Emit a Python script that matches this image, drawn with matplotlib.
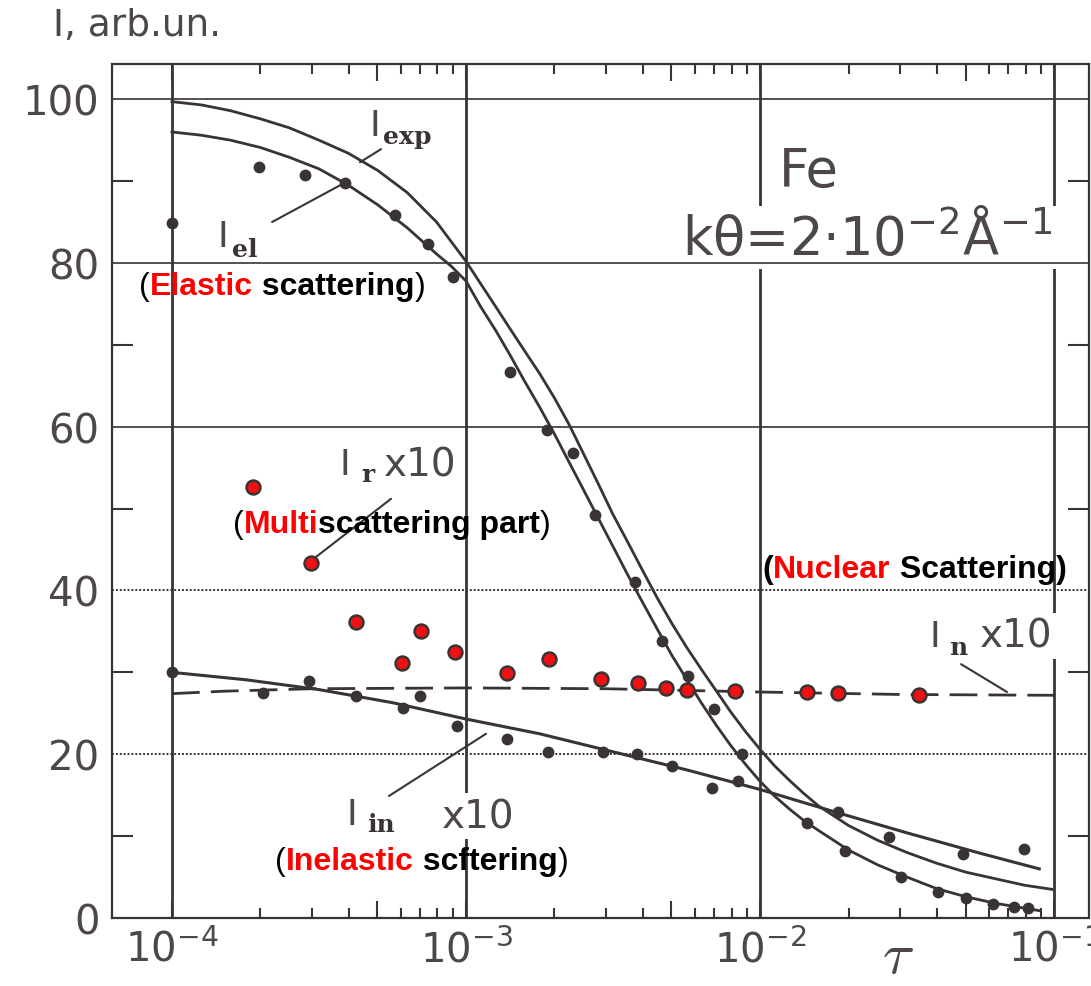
import matplotlib.pyplot as plt
from matplotlib.ticker import FixedLocator, FuncFormatter, NullFormatter
import numpy as np

# colours of the scanned figure
ink = '#3a3333'
grey = '#4d4747'
red = '#ff0000'

# curves (tau, intensity)
tau_curve = [1.0e-4, 1.26e-4, 1.58e-4, 2.0e-4, 2.51e-4, 3.16e-4, 3.98e-4, 5.01e-4, 6.31e-4,
             7.94e-4, 8.91e-4, 1.0e-3, 1.12e-3, 1.26e-3, 1.41e-3, 1.58e-3, 1.78e-3, 2.0e-3,
             2.24e-3, 2.51e-3, 2.82e-3, 3.16e-3, 3.55e-3, 3.98e-3, 4.47e-3, 5.01e-3, 5.62e-3,
             6.31e-3, 7.08e-3, 7.94e-3, 8.91e-3, 1.0e-2, 1.12e-2, 1.26e-2, 1.41e-2, 1.58e-2,
             2.0e-2, 2.51e-2, 3.16e-2, 3.98e-2, 5.01e-2, 6.31e-2, 7.94e-2]
I_exp = [99.7, 99.3, 98.6, 97.6, 96.5, 95.0, 93.4, 91.3, 88.6,
         85.0, 82.6, 80.2, 77.5, 74.7, 72.0, 69.3, 66.5, 63.5,
         60.3, 56.7, 53.0, 49.3, 45.9, 42.5, 39.1, 36.0, 33.1,
         30.4, 27.8, 25.2, 22.8, 20.6, 18.6, 16.8, 15.2, 13.7,
         11.3, 9.5, 8.0, 6.7, 5.6, 4.8, 4.0]
I_el = [96.0, 95.6, 95.0, 94.1, 92.9, 91.5, 89.5, 87.1, 84.3,
        81.1, 79.6, 77.8, 74.7, 71.8, 68.8, 65.6, 62.4, 59.1,
        55.7, 52.3, 48.8, 45.4, 41.9, 38.6, 35.3, 32.1, 29.2,
        26.3, 23.6, 21.1, 18.8, 16.7, 14.9, 13.3, 11.9, 10.7,
        8.3, 6.5, 5.0, 3.6, 2.6, 1.8, 1.2]
tau_exp_end = [9.84e-2]
I_exp_end = [3.5]
tau_el_end = [8.91e-2]
I_el_end = [0.9]

tau_in = [1.0e-4, 1.78e-4, 3.16e-4, 5.62e-4, 1.0e-3, 1.78e-3, 3.16e-3, 5.62e-3,
          1.0e-2, 1.78e-2, 3.16e-2, 5.62e-2, 8.91e-2]
I_in10 = [30.0, 29.1, 27.9, 26.3, 24.3, 22.5, 20.3, 18.1,
          15.7, 13.0, 10.4, 7.9, 6.0]

tau_n = [1.0e-4, 1.5e-4, 3.0e-4, 1.0e-3, 3.0e-3, 1.0e-2, 3.0e-2, 1.0e-1]
I_n10 = [27.4, 27.7, 28.0, 28.1, 28.0, 27.6, 27.3, 27.2]

# measured points
tau_el_pts = [1.0e-4, 1.98e-4, 2.83e-4, 3.87e-4, 5.73e-4, 7.43e-4, 9.03e-4, 1.41e-3,
              1.89e-3, 2.31e-3, 2.75e-3, 3.76e-3, 4.65e-3, 5.69e-3, 6.98e-3, 8.69e-3,
              1.45e-2, 1.95e-2, 3.02e-2, 4.03e-2, 5.01e-2, 6.21e-2, 7.31e-2, 8.17e-2]
I_el_pts = [84.9, 91.7, 90.8, 89.8, 85.8, 82.3, 78.3, 66.7,
            59.6, 56.8, 49.2, 41.0, 33.8, 29.5, 25.5, 20.0,
            11.6, 8.2, 5.0, 3.2, 2.5, 1.7, 1.3, 1.2]

tau_in_pts = [1.0e-4, 2.04e-4, 2.92e-4, 4.23e-4, 6.11e-4, 6.98e-4, 9.31e-4, 1.38e-3,
              1.90e-3, 2.92e-3, 3.82e-3, 5.02e-3, 6.87e-3, 8.41e-3, 1.84e-2, 2.75e-2,
              4.90e-2, 7.91e-2]
I_in_pts = [30.0, 27.5, 28.9, 27.1, 25.6, 27.1, 23.4, 21.9,
            20.3, 20.3, 20.0, 18.6, 15.9, 16.7, 12.9, 9.9,
            7.8, 8.4]

tau_r_pts = [1.88e-4, 2.97e-4, 4.23e-4, 6.05e-4, 7.03e-4, 9.18e-4, 1.38e-3, 1.92e-3,
             2.88e-3, 3.85e-3, 4.79e-3, 5.65e-3, 8.22e-3, 1.45e-2, 1.84e-2, 3.48e-2]
I_r_pts = [52.6, 43.3, 36.1, 31.1, 35.1, 32.5, 29.9, 31.6,
           29.2, 28.7, 28.1, 27.8, 27.7, 27.6, 27.5, 27.2]

decades = [1e-4, 1e-3, 1e-2, 1e-1]
y_major = [0, 20, 40, 60, 80, 100]
y_minor = [10, 30, 50, 70, 90]

fig = plt.figure(figsize=(10.91, 9.87), dpi=100)
ax = fig.add_axes([112 / 1091, 1 - 919 / 987, (1089 - 112) / 1091, (919 - 65) / 987])
ax.set_xscale('log')
ax.set_xlim(10 ** -4.204, 10 ** -0.881)
ax.set_ylim(0, 104.3)

# grid of the original drawing
for v in decades:
    ax.axvline(v, color=ink, lw=2, zorder=1)
for v in [60, 80, 100]:
    ax.axhline(v, color=ink, lw=1.2, zorder=4.5)
for v in [20, 40]:
    ax.axhline(v, color=ink, lw=1.4, ls=(0, (1, 1)), zorder=4.5)

for side in ['left', 'right', 'top', 'bottom']:
    ax.spines[side].set_color(ink)
    ax.spines[side].set_linewidth(1.6)
ax.spines['bottom'].set_linestyle((0, (1, 1)))

# ticks
ax.xaxis.set_major_locator(FixedLocator([1e-4, 5e-4, 1e-3, 5e-3, 1e-2, 5e-2, 1e-1]))
ax.xaxis.set_minor_locator(FixedLocator([m * 10.0 ** e for e in (-4, -3, -2)
                                         for m in (2, 3, 4, 6, 7, 8, 9)]))


def dec_label(v, pos):
    e = np.log10(v)
    if abs(e - round(e)) < 1e-6:
        return r'$\mathregular{10^{%d}}$' % round(e)
    return ''


ax.xaxis.set_major_formatter(FuncFormatter(dec_label))
ax.xaxis.set_minor_formatter(NullFormatter())
ax.tick_params(axis='x', which='major', direction='in', length=12, width=1.5,
               top=True, bottom=True, pad=8, labelsize=29, labelcolor=grey, color=ink)
ax.tick_params(axis='x', which='minor', direction='in', length=7, width=1.5,
               top=True, bottom=True, color=ink)
ax.set_yticks(y_major)
ax.set_yticks(y_minor, minor=True)
ax.tick_params(axis='y', which='major', length=0, pad=9, labelsize=29, labelcolor=grey)
ax.tick_params(axis='y', which='minor', direction='in', length=15, width=1.5,
               left=True, right=True, color=ink)

# curves and points
ax.plot(tau_curve + tau_exp_end, I_exp + I_exp_end, color=ink, lw=2, zorder=2)
ax.plot(tau_curve + tau_el_end, I_el + I_el_end, color=ink, lw=2, zorder=2)
ax.plot(tau_in, I_in10, color=ink, lw=2.2, zorder=2)
ax.plot(tau_n, I_n10, color=ink, lw=2, dashes=(10, 4), zorder=2)
ax.plot(tau_el_pts, I_el_pts, 'o', ms=8.5, color=ink, mew=0, zorder=3)
ax.plot(tau_in_pts, I_in_pts, 'o', ms=8.5, color=ink, mew=0, zorder=3)
ax.plot(tau_r_pts, I_r_pts, 'o', ms=10, mfc='#ee1111', mec=ink, mew=1.8, zorder=3)

# curve labels
lab = dict(fontsize=26, color=grey, va='baseline', zorder=4)
big = dict(fontsize=28, color=grey, va='baseline', zorder=4)
sub = dict(fontsize=18, family='DejaVu Serif', weight='bold', color=ink, va='baseline', zorder=4)
white = dict(facecolor='white', edgecolor='none', pad=3)

ax.text(4.71e-4, 95.6, 'I', **lab)
ax.text(5.22e-4, 94.7, 'exp', **sub)
ax.text(1.43e-4, 82.1, 'I', **lab)
ax.text(1.6e-4, 80.8, 'el', **sub)
ax.text(3.70e-4, 54.2, 'I', **lab)
ax.text(4.40e-4, 53.4, 'r', **sub)
ax.text(5.26e-4, 54.0, 'x10', bbox=white, **big)
ax.text(3.76e-2, 33.2, 'I', **lab)
ax.text(4.40e-2, 32.2, 'n', **sub)
ax.text(5.6e-2, 33.1, 'x10', bbox=white, **big)
ax.text(3.91e-4, 11.5, 'I', **lab)
ax.text(4.6e-4, 10.6, 'in', **sub)
ax.text(8.28e-4, 11.1, 'x10', bbox=white, **big)

# leader lines
leaders = [((5.14e-4, 93.9), (4.36e-4, 92.3)),
           ((2.19e-4, 85.0), (3.78e-4, 89.6)),
           ((5.56e-4, 51.2), (3.09e-4, 44.1)),
           ((4.83e-2, 31.0), (6.92e-2, 27.6)),
           ((5.47e-4, 14.9), (1.17e-3, 22.5))]
for a, b in leaders:
    ax.annotate('', xy=b, xytext=a,
                arrowprops=dict(arrowstyle='-', color=ink, lw=1.5, shrinkA=0, shrinkB=0),
                zorder=3)

ax.text(1.16e-2, 89.4, 'Fe', fontsize=38, color=grey, va='baseline', zorder=4)
ax.text(9.84e-2, 81.1, 'kθ=2·10$^{-2}$Å$^{-1}$', ha='right', va='baseline',
        fontsize=38, color=grey, bbox=white, zorder=4)


def two_tone(x, y, parts):
    # chain text pieces left to right so each can have its own colour
    s, c, w = parts[0]
    t = ax.text(x, y, s, color=c, fontweight=w, fontsize=23, family='Liberation Sans',
                va='baseline', zorder=5)
    for s, c, w in parts[1:]:
        t = ax.annotate(s, xy=(1, 0), xycoords=t, va='bottom', color=c, fontweight=w,
                        fontsize=23, family='Liberation Sans', zorder=5)


two_tone(7.73e-5, 76.2, [('(', 'black', 'normal'), ('Elastic', red, 'bold'),
                         (' scattering', 'black', 'bold'), (')', 'black', 'normal')])
two_tone(1.61e-4, 47.1, [('(', 'black', 'normal'), ('Multi', red, 'bold'),
                         ('scattering part', 'black', 'bold'), (')', 'black', 'normal')])
two_tone(1.02e-2, 41.6, [('(', 'black', 'bold'), ('Nuclear', red, 'bold'),
                         (' Scattering)', 'black', 'bold')])
two_tone(2.24e-4, 6.0, [('(', 'black', 'normal'), ('Inelastic', red, 'bold'),
                        (' scftering', 'black', 'bold'), (')', 'black', 'normal')])

fig.text(53 / 1091, 1 - 36 / 987, 'I, arb.un.', fontsize=27, color=grey, va='baseline')
fig.text(898 / 1091, 0.002, r'$\tau$', fontsize=42, math_fontfamily='cm',
         color=grey, ha='center', va='bottom')

fig.savefig('out.png', dpi=100, facecolor='white')
